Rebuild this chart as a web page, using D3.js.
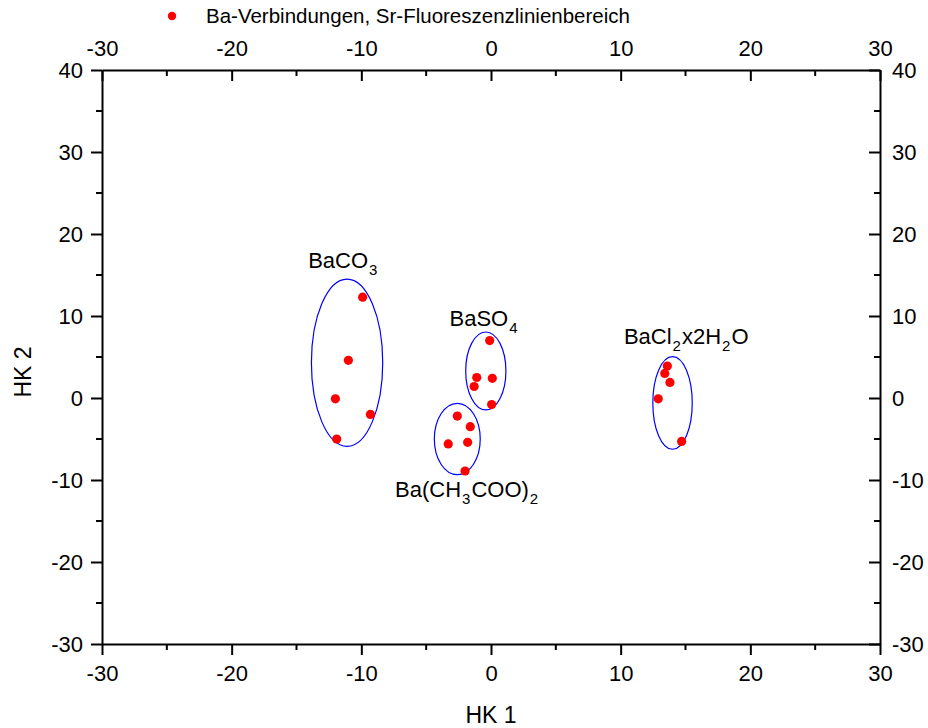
<!DOCTYPE html>
<html>
<head>
<meta charset="utf-8">
<script src="https://cdn.jsdelivr.net/npm/d3@7"></script>
<style>
  body { margin: 0; background: #fff; }
  svg { display: block; font-family: "Liberation Sans", Arial, sans-serif; }
</style>
</head>
<body>
<svg id="chart"></svg>
<script>
const width = 928, height = 728;
const margin = {top: 70, right: 48, bottom: 84, left: 102};

// scores (HK 1, HK 2) per compound
const compounds = ["BaCO3", "BaSO4", "Ba(CH3COO)2", "BaCl2x2H2O"];
const hk1 = [
  [-9.9, -11.0, -12.0, -9.3, -11.9],
  [-0.1, -1.1, 0.1, -1.3, 0.05],
  [-2.6, -1.6, -3.3, -1.8, -2.0],
  [13.6, 13.4, 13.8, 12.9, 14.7]
];
const hk2 = [
  [12.3, 4.6, -0.1, -2.0, -5.0],
  [7.0, 2.5, 2.4, 1.4, -0.8],
  [-2.2, -3.5, -5.6, -5.4, -8.9],
  [3.9, 3.0, 1.9, -0.1, -5.3]
];
// cluster ellipses: centre and half axes, in data units
const ellCx = [-11.1, -0.4, -2.6, 14.0];
const ellCy = [4.3, 3.3, -5.0, -0.6];
const ellRx = [2.75, 1.55, 1.77, 1.52];
const ellRy = [10.2, 4.75, 4.35, 5.65];
// label anchors (start of text, baseline), data units
const labelX = [-14.1, -3.2, -7.4, 10.25];
const labelY = [15.8, 8.8, -12.1, 6.55];
// label pieces: [text, subscript?]
const labelParts = [
  [["BaCO", 0], ["3", 1]],
  [["BaSO", 0], ["4", 1]],
  [["Ba(CH", 0], ["3", 1], ["COO)", 0], ["2", 1]],
  [["BaCl", 0], ["2", 1], ["x2H", 0], ["2", 1], ["O", 0]]
];
const xTicks = [-30, -20, -10, 0, 10, 20, 30];
const yTicks = [-30, -20, -10, 0, 10, 20, 30, 40];
const legendLabel = "Ba-Verbindungen, Sr-Fluoreszenzlinienbereich";

const points = [];
compounds.forEach((c, i) => hk1[i].forEach((v, j) => points.push({x: v, y: hk2[i][j]})));

const svg = d3.select("#chart").attr("width", width).attr("height", height);

const x = d3.scaleLinear().domain([-30, 30]).range([margin.left, width - margin.right]);
const y = d3.scaleLinear().domain([-30, 40]).range([height - margin.bottom, margin.top]);

const fmt = d => String(d);  // plain hyphen minus like the original
const tickFont = "22px";
function styleAxis(g) {
  g.select(".domain").attr("stroke", "#000").attr("stroke-width", 2);
  g.selectAll(".tick line").attr("stroke", "#000").attr("stroke-width", 2);
  g.selectAll(".tick text").attr("font-size", tickFont).attr("fill", "#000").attr("font-family", null);
}
function minor(g, scale, orient, vals) {
  // minor ticks halfway between majors
  g.selectAll(".minor").data(vals).join("line")
    .attr("stroke", "#000").attr("stroke-width", 2)
    .each(function(d) {
      const p = scale(d), s = d3.select(this);
      if (orient === "bottom" || orient === "top") s.attr("x1", p).attr("x2", p).attr("y1", 0).attr("y2", 6);
      if (orient === "left" || orient === "right") s.attr("y1", p).attr("y2", p).attr("x1", 0).attr("x2", -6);
    });
}
const xMinor = [-25, -15, -5, 5, 15, 25];
const yMinor = [-25, -15, -5, 5, 15, 25, 35];

const gB = svg.append("g").attr("transform", `translate(0,${height - margin.bottom})`)
  .call(d3.axisBottom(x).tickValues(xTicks).tickFormat(fmt).tickSize(11).tickPadding(10).tickSizeOuter(0));
styleAxis(gB); minor(gB, x, "bottom", xMinor);

const gT = svg.append("g").attr("transform", `translate(0,${margin.top})`)
  .call(d3.axisTop(x).tickValues(xTicks).tickFormat(fmt).tickSize(0).tickPadding(14).tickSizeOuter(0));
styleAxis(gT);
gT.selectAll(".tick line").attr("y2", 11);
minor(gT, x, "top", xMinor);

const gL = svg.append("g").attr("transform", `translate(${margin.left},0)`)
  .call(d3.axisLeft(y).tickValues(yTicks).tickFormat(fmt).tickSize(11).tickPadding(8).tickSizeOuter(0));
styleAxis(gL); minor(gL, y, "left", yMinor);

const gR = svg.append("g").attr("transform", `translate(${width - margin.right},0)`)
  .call(d3.axisRight(y).tickValues(yTicks).tickFormat(fmt).tickSize(0).tickPadding(12).tickSizeOuter(0));
styleAxis(gR);
gR.selectAll(".tick line").attr("x2", -11);
minor(gR, y, "right", yMinor);

// ellipses
svg.append("g").selectAll("ellipse").data(compounds).join("ellipse")
  .attr("cx", (d, i) => x(ellCx[i]))
  .attr("cy", (d, i) => y(ellCy[i]))
  .attr("rx", (d, i) => x(ellCx[i] + ellRx[i]) - x(ellCx[i]))
  .attr("ry", (d, i) => y(ellCy[i]) - y(ellCy[i] + ellRy[i]))
  .attr("fill", "none").attr("stroke", "#0000ff").attr("stroke-width", 1.2);

// points
svg.append("g").selectAll("circle").data(points).join("circle")
  .attr("cx", d => x(d.x)).attr("cy", d => y(d.y))
  .attr("r", 4.6).attr("fill", "#ff0000");

// labels with subscripts
const labels = svg.append("g").selectAll("text").data(compounds).join("text")
  .attr("x", (d, i) => x(labelX[i])).attr("y", (d, i) => y(labelY[i]))
  .attr("font-size", "22px").attr("fill", "#000");
labels.each(function(d, i) {
  const t = d3.select(this);
  let prevSub = 0;
  labelParts[i].forEach(([txt, sub]) => {
    const ts = t.append("tspan").text(txt);
    if (sub) ts.attr("font-size", "15px").attr("dx", 1);
    else if (prevSub) ts.attr("dx", 1);
    ts.attr("dy", sub === prevSub ? 0 : (sub ? 7 : -7));
    prevSub = sub;
  });
});

// legend
svg.append("circle").attr("cx", 172).attr("cy", 16).attr("r", 4.2).attr("fill", "#ff0000");
svg.append("text").attr("x", 206).attr("y", 23).attr("font-size", "20.5px").text(legendLabel);

// axis titles
svg.append("text").attr("x", x(0)).attr("y", 723).attr("text-anchor", "middle")
  .attr("font-size", "23px").text("HK 1");
svg.append("text").attr("transform", "translate(31,372) rotate(-90)").attr("text-anchor", "middle")
  .attr("font-size", "23px").text("HK 2");
</script>
</body>
</html>
